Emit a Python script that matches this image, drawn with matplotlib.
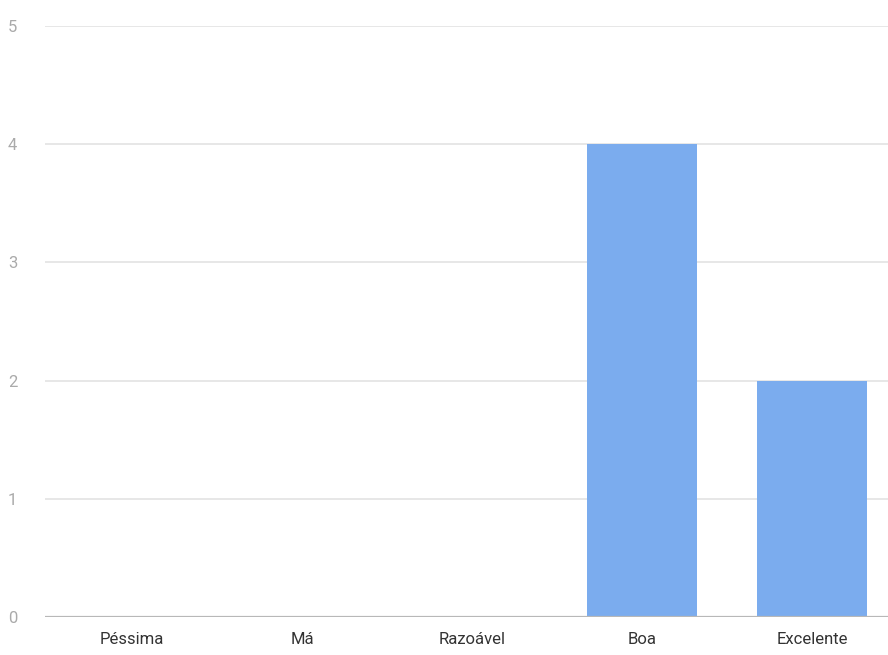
import matplotlib
matplotlib.use("Agg")
import matplotlib.pyplot as plt

categories = ["Péssima", "Má", "Razoável", "Boa", "Excelente"]
counts = [0, 0, 0, 4, 2]
y_ticks = [0, 1, 2, 3, 4, 5]

plt.rcParams['font.family'] = ['Roboto', 'DejaVu Sans']

fig = plt.figure(figsize=(8.88, 6.55), dpi=100)
ax = fig.add_axes([45 / 888, 38 / 655, 1 - 45 / 888, (617 - 26) / 655])

x = list(range(len(categories)))
ax.bar(x, counts, width=0.65, color='#7BACEE', zorder=3)

ax.set_ylim(0, 5)
ax.set_xlim(-0.512, 4.447)
ax.set_yticks(y_ticks)
ax.set_xticks(x)
ax.set_xticklabels(categories, fontsize=12, color='#333333')
ax.set_yticklabels([str(t) for t in y_ticks], fontsize=12, color='#aaaaaa')

ax.grid(axis='y', color='#e3e3e3', linewidth=1.2, zorder=0)
ax.axhline(0, color='#b8b8b8', linewidth=1.6, zorder=4)
for s in ax.spines.values():
    s.set_visible(False)
ax.tick_params(axis='both', length=0)
ax.tick_params(axis='y', pad=20)
ax.tick_params(axis='x', pad=11)

fig.savefig("out.png", dpi=100)
